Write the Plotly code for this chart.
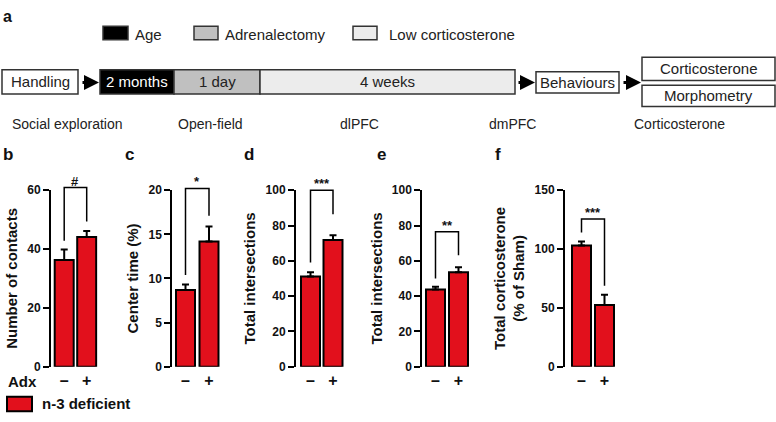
import plotly.graph_objects as go

W, H = 776, 422

# ---------------- data ----------------
panel_letters = ["b", "c", "d", "e", "f"]
groups = ["–", "+"]
y_titles = ["Number of contacts", "Center time (%)", "Total intersections",
            "Total intersections", "Total corticosterone<br>(% of Sham)"]
means_b = [36.3, 44.1]
sem_b = [3.5, 2.0]
means_c = [8.7, 14.2]
sem_c = [0.6, 1.7]
means_d = [51.1, 71.8]
sem_d = [2.4, 2.7]
means_e = [43.7, 53.5]
sem_e = [1.6, 2.8]
means_f = [103.0, 52.4]
sem_f = [3.3, 8.7]
y_max = [60, 20, 100, 100, 150]
y_dtick = [20, 5, 20, 20, 50]
sig_labels = ["#", "*", "***", "**", "***"]
bracket_top = [60.9, 20.2, 100.0, 76.5, 125.5]
bracket_left = [42.8, 10.4, 59.0, 49.9, 114.0]
bracket_right = [49.4, 17.1, 86.4, 63.2, 68.8]
legend_label = "n-3 deficient"

timeline_legend = ["Age", "Adrenalectomy", "Low corticosterone"]
timeline_steps = ["Handling", "2 months", "1 day", "4 weeks", "Behaviours"]
outcome_boxes = ["Corticosterone", "Morphometry"]
test_labels = ["Social exploration", "Open-field", "dlPFC", "dmPFC", "Corticosterone"]

means = [means_b, means_c, means_d, means_e, means_f]
sems = [sem_b, sem_c, sem_d, sem_e, sem_f]

# ---------------- layout geometry (pixels) ----------------
axis_px = [51, 172.3, 296, 422.3, 565]
bar1_px = [64.2, 185.5, 310.5, 435.5, 581.5]
spacing_px = [22.5, 23.5, 22.5, 23, 23]
bar_px = 19
y_bottom_px = 372
y_top_px = 189.5

RED = "#e2101c"
FONT = "Arial, Liberation Sans, sans-serif"
TXT = "#111111"
GRAYTXT = "#222222"


def fx(px):
    return px / W


def fy(px):
    return 1 - px / H


fig = go.Figure()
layout = dict(
    width=W, height=H, margin=dict(l=0, r=0, t=0, b=0),
    paper_bgcolor="white", plot_bgcolor="rgba(0,0,0,0)", showlegend=False,
    font=dict(family=FONT, color=TXT),
)
annotations = []
shapes = []

for i in range(5):
    n = i + 1
    xa = "x" if n == 1 else f"x{n}"
    yv = "y" if n == 1 else f"y{n}"       # visible value axis (bars)
    ye = f"y{n + 5}"                       # extended hidden axis (brackets)
    s = spacing_px[i]
    r0 = -(bar1_px[i] - axis_px[i]) / s
    r1 = 1 + (bar_px / 2 + 1.5) / s
    x_dom = [fx(axis_px[i]), fx(bar1_px[i] + s + bar_px / 2 + 1.5)]
    ppu = (y_bottom_px - y_top_px) / y_max[i]
    ext = y_max[i] * 1.12
    ye_top_px = y_bottom_px - ext * ppu

    fig.add_trace(go.Bar(
        x=[0, 1], y=means[i], width=bar_px / s,
        marker=dict(color=RED, line=dict(color="black", width=2)),
        error_y=dict(type="data", array=sems[i], arrayminus=[0, 0], symmetric=False,
                     color="black", thickness=2, width=3.5),
        xaxis=xa, yaxis=yv, hoverinfo="skip",
    ))
    fig.add_trace(go.Scatter(
        x=[0, 0, 1, 1],
        y=[bracket_left[i], bracket_top[i], bracket_top[i], bracket_right[i]],
        mode="lines", line=dict(color="black", width=1.5),
        xaxis=xa, yaxis=ye, hoverinfo="skip",
    ))
    annotations.append(dict(
        x=0.5, y=bracket_top[i], xref=xa, yref=ye, text=f"<b>{sig_labels[i]}</b>",
        showarrow=False, yanchor="bottom", xanchor="center", yshift=-3,
        font=dict(size=13, color=TXT),
    ))

    xkey = "xaxis" if n == 1 else f"xaxis{n}"
    yvkey = "yaxis" if n == 1 else f"yaxis{n}"
    yekey = f"yaxis{n + 5}"
    layout[xkey] = dict(
        domain=x_dom, range=[r0, r1], anchor=yv, showline=False, showgrid=False,
        zeroline=False, tickvals=[0, 1], ticktext=groups, ticks="",
        tickfont=dict(size=16, weight="bold", color=TXT), ticklabelstandoff=2,
        fixedrange=True,
    )
    layout[yekey] = dict(
        domain=[fy(y_bottom_px), fy(ye_top_px)], range=[0, ext], anchor=xa,
        visible=False, showgrid=False, zeroline=False, fixedrange=True,
    )
    layout[yvkey] = dict(
        domain=[fy(y_bottom_px), fy(y_top_px)], range=[0, y_max[i]], anchor=xa,
        showline=True, linewidth=2, linecolor="black", ticks="outside", ticklen=6,
        tickwidth=2, tickcolor="black",
        tickvals=list(range(0, y_max[i] + 1, y_dtick[i])),
        tickfont=dict(size=12, weight="bold", color=TXT),
        showgrid=False, zeroline=False, fixedrange=True,
        title=dict(text=y_titles[i], font=dict(size=15, weight="bold", color=TXT), standoff=6),
    )

# panel letters
letter_x = [1, 123, 242, 375, 493]
annotations.append(dict(x=fx(1), y=fy(10), xref="paper", yref="paper", text="<b>a</b>",
                        showarrow=False, xanchor="left", yanchor="middle",
                        font=dict(size=16, color=TXT)))
for i in range(5):
    annotations.append(dict(x=fx(letter_x[i]), y=fy(153), xref="paper", yref="paper",
                            text=f"<b>{panel_letters[i]}</b>", showarrow=False,
                            xanchor="left", yanchor="middle", font=dict(size=17, color=TXT)))

# Adx label
annotations.append(dict(x=fx(22), y=fy(387), xref="paper", yref="paper", text="<b>Adx</b>",
                        showarrow=False, xanchor="center", yanchor="middle",
                        font=dict(size=15, color=TXT)))
# legend
shapes.append(dict(type="rect", xref="paper", yref="paper", x0=fx(7), x1=fx(32),
                   y0=fy(418), y1=fy(403), fillcolor=RED, line=dict(color="black", width=2)))
annotations.append(dict(x=fx(40), y=fy(410), xref="paper", yref="paper",
                        text=f"<b>{legend_label}</b>", showarrow=False, xanchor="left",
                        yanchor="middle", font=dict(size=15, color=TXT)))

# ---------------- panel a: timeline ----------------
BORDER = dict(color="#333333", width=1.5)
leg_boxes = [(103, 128, "#000000"), (194, 218, "#c0c0c0"), (353, 377, "#ececec")]
leg_text_x = [133, 223, 387]
for (x0, x1, col), tx, lab in zip(leg_boxes, leg_text_x, timeline_legend):
    shapes.append(dict(type="rect", xref="paper", yref="paper", x0=fx(x0), x1=fx(x1),
                       y0=fy(34), y1=fy(20), fillcolor=col, line=BORDER))
    annotations.append(dict(x=fx(tx), y=fy(28), xref="paper", yref="paper", text=lab,
                            showarrow=False, xanchor="left", yanchor="middle",
                            font=dict(size=15, color=GRAYTXT)))

step_boxes = [(2, 78, 65, 90, "white", GRAYTXT),
              (100, 174, 65, 90, "#000000", "white"),
              (174, 260, 65, 90, "#c0c0c0", GRAYTXT),
              (260, 515, 65, 90, "#ececec", GRAYTXT),
              (536, 619, 67, 89, "white", GRAYTXT)]
for (x0, x1, y0, y1, col, tcol), lab in zip(step_boxes, timeline_steps):
    shapes.append(dict(type="rect", xref="paper", yref="paper", x0=fx(x0), x1=fx(x1),
                       y0=fy(y1), y1=fy(y0), fillcolor=col, line=BORDER))
    annotations.append(dict(x=fx((x0 + x1) / 2), y=fy((y0 + y1) / 2), xref="paper",
                            yref="paper", text=lab, showarrow=False, xanchor="center",
                            yanchor="middle", font=dict(size=15, color=tcol)))

out_boxes = [(642, 775, 52, 76), (642, 775, 81, 103)]
for (x0, x1, y0, y1), lab in zip(out_boxes, outcome_boxes):
    shapes.append(dict(type="rect", xref="paper", yref="paper", x0=fx(x0), x1=fx(x1),
                       y0=fy(y1), y1=fy(y0), fillcolor="white", line=BORDER))
    annotations.append(dict(x=fx((x0 + x1) / 2), y=fy((y0 + y1) / 2), xref="paper",
                            yref="paper", text=lab, showarrow=False, xanchor="center",
                            yanchor="middle", font=dict(size=15, color=GRAYTXT)))

for xs, xe in [(81, 99), (517, 535), (622, 641)]:
    annotations.append(dict(x=fx(xe), y=fy(78), xref="paper", yref="paper", text="",
                            showarrow=True, ax=xs - xe, ay=0, arrowhead=2, arrowsize=1,
                            arrowwidth=3, arrowcolor="black", standoff=0, startstandoff=0))

test_x = [67, 211, 359, 512, 679]
for tx, lab in zip(test_x, test_labels):
    annotations.append(dict(x=fx(tx), y=fy(121), xref="paper", yref="paper", text=lab,
                            showarrow=False, xanchor="center", yanchor="middle",
                            font=dict(size=14, color=GRAYTXT)))

layout["annotations"] = annotations
layout["shapes"] = shapes
fig.update_layout(**layout)
fig.write_html(
    "out.html",
    config={"displayModeBar": False},
    post_script="document.body.style.margin='0';document.body.style.overflow='hidden';",
)
